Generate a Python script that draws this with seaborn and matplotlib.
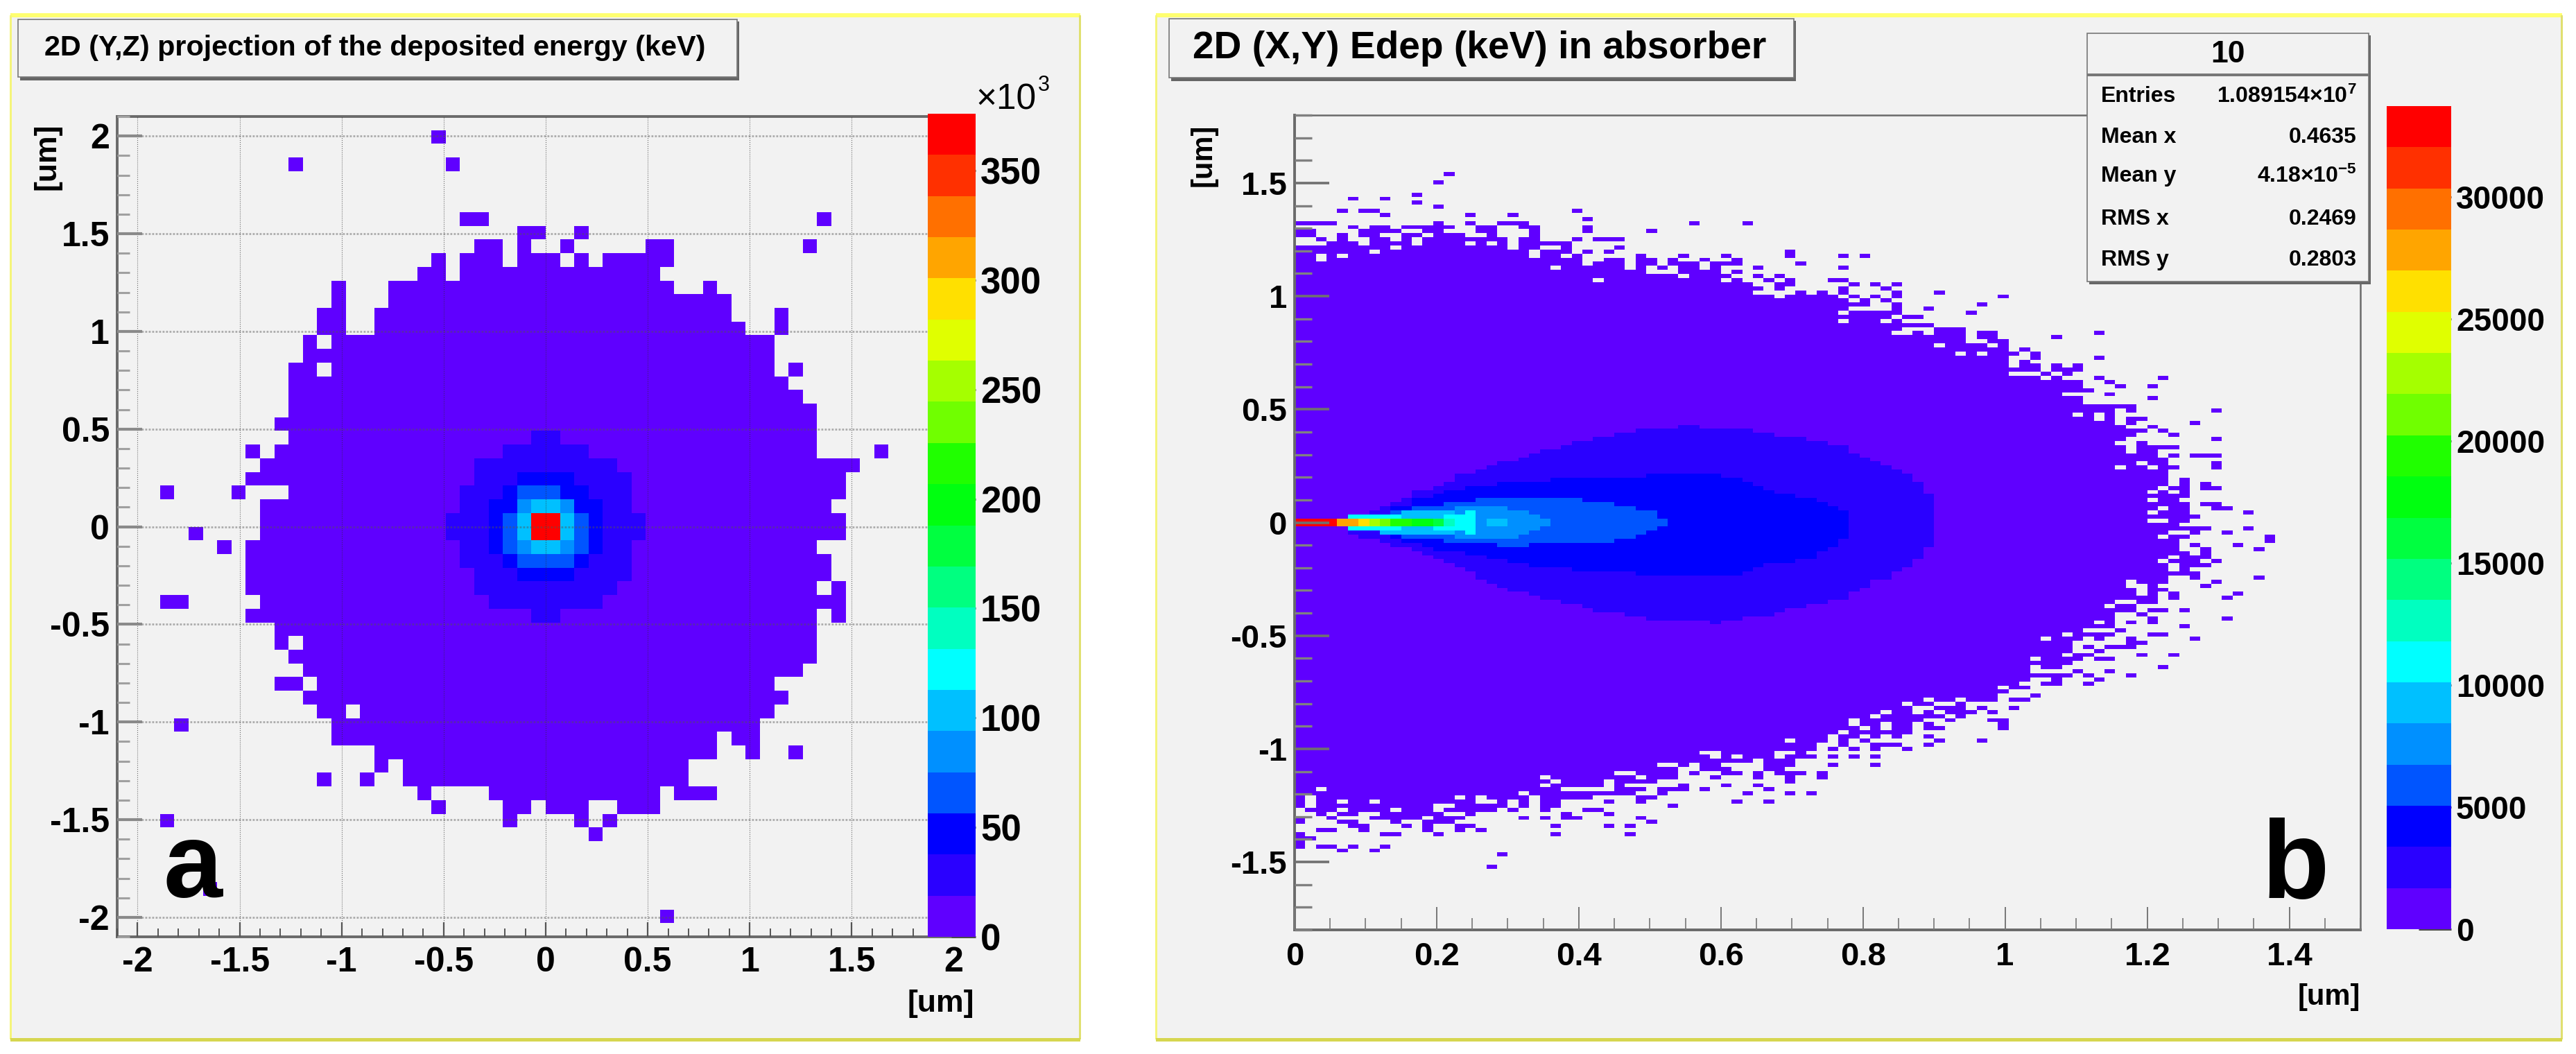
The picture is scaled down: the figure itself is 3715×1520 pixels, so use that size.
import matplotlib
matplotlib.use("Agg")
import matplotlib.pyplot as plt
from matplotlib.colors import ListedColormap
from matplotlib.patches import Rectangle
from matplotlib.ticker import MultipleLocator
import numpy as np
import pandas as pd
import seaborn as sns

WIDTH = 3715
HEIGHT = 1520

# palette, lowest contour first
BANDS = ["#5f00ff", "#2a00ff", "#0000ff", "#0055ff", "#0090ff", "#00c0ff", "#00ffff",
         "#00ffc0", "#00ff80", "#00ff40", "#00ff10", "#20ff00", "#70ff00", "#a5ff00",
         "#e0ff00", "#ffe000", "#ffa500", "#ff7000", "#ff3000", "#ff0000"]

# panel a: 60 x 60 bins, row 0 on top, filled columns per row
BINS_A = {
    1: "22", 3: "12 23", 7: "24-25 49", 8: "28-29 32", 9: "25-26 28 31 37-38 48",
    10: "22 24-26 28-30 32 34-38", 11: "21-22 24-37", 12: "15 19-38 41", 13: "15 19-42",
    14: "14-15 18-42 46", 15: "14-15 18-43 46", 16: "13 15-45", 17: "13-45",
    18: "12-13 15-45 47", 19: "12-46", 20: "12-47", 21: "12-48", 22: "11-48", 23: "12-48",
    24: "9 11-48 53", 25: "10-51", 26: "9-50", 27: "3 8 12-50", 28: "10-49", 29: "10-50",
    30: "5 10-50", 31: "7 9-48", 32: "9-49", 33: "9-49", 34: "9-48 50", 35: "3-4 10-50",
    36: "9-48 50", 37: "11-48", 38: "11 13-48", 39: "12-48", 40: "13-47", 41: "11-12 14-45",
    42: "13-46", 43: "14-15 17-45", 44: "4 15-44", 45: "15-41 43-44", 46: "18-41 44 47",
    47: "18 20-39", 48: "14 17 20-39", 49: "21 26-37 39-41", 50: "22 27-28 30-32 35-37",
    51: "3 27 32 34", 52: "33", 56: "6", 58: "38",
}
CORE_A_1 = {23: "29-30", 24: "27-32", 25: "25-34", 26: "25-35", 27: "24-35", 28: "24-35",
            29: "23-36", 30: "23-36", 31: "24-35", 32: "24-35", 33: "25-35", 34: "25-34",
            35: "26-33", 36: "29-30"}
CORE_A_2 = {26: "28-31", 27: "27-32", 28: "26-33", 29: "26-33", 30: "26-33", 31: "26-33",
            32: "27-32", 33: "28-31"}
CORE_A_3 = {27: "28-30", 29: "27 32", 30: "27 32", 31: "27 32", 32: "28-31"}
CORE_A_4 = {28: "28 31", 31: "28 31"}
CORE_A_5 = {28: "29-30", 29: "28 31", 30: "28 31", 31: "29-30"}
CORE_A_19 = {29: "29-30", 30: "29-30"}

# panel b: 200 rows x 100 columns
BINS_B = {
    14: "14", 16: "13", 19: "11", 20: "5 8", 21: "11", 22: "13", 23: "4 6-7 26", 24: "8 16 20",
    25: "27", 26: "0-3 13 16 19-21 37 42", 27: "5 7-8 10-14 17-18 21-22 27",
    28: "0-1 6-9 12-13 17-18 22 27 33", 29: "0-1 4 6-7 10-11 13-15 18 22",
    30: "2 4 7-8 10 12-19 21-22 26 28-30", 31: "3-5 7-10 12-15 17 19 21-25",
    32: "0-8 10-19 21-22 25 30", 33: "0-6 8-21 23-25 27 29 46",
    34: "0-1 3 5-21 23-24 26 32 36 40 46 51 53", 35: "0-1 3-26 29-30 32-33 35 38 41",
    36: "0-26 28-30 32-33 35-37 39-41 47", 37: "0-23 25-30 32 34 36-37 39 43 51",
    38: "0-32 36-39 41", 39: "0-35 37-40 43 45", 40: "0-27 29-39 41 44 46 50-51",
    41: "0-42 45-46 52 54 56", 42: "0-43 45 51 55", 43: "0-42 47 49 51 56 60",
    44: "0-44 46-50 52 54 56 66", 45: "0-51 53 55", 46: "0-53 56 64", 47: "0-51 56 59",
    48: "0-50 52-56 63", 49: "0-55 57-58", 50: "0-50 52-54 56", 51: "0-59", 52: "0-56 60-62",
    53: "0-55 58 60-62 64-65 75", 54: "0-62 64-65 71", 55: "0-62 65-66", 56: "0-59 61-64 66",
    57: "0-66 68", 58: "0-61 63 65-67 69", 59: "0-66 69 75", 60: "0-66 68",
    61: "0-66 68-69 71 73", 62: "0-69 71-73", 63: "0-66 70 72", 64: "0-69 71 75 81",
    65: "0-73 76", 66: "0-73 77 80", 67: "0-74", 68: "0-71 76", 69: "0-73 80", 70: "0-73",
    71: "0-78", 72: "0-76 78 86", 73: "0-72 74 76", 74: "0-74 76 78-79", 75: "0-76 78 84",
    76: "0-77 80", 77: "0-79 81", 78: "0-78 82", 79: "0-77 86", 80: "0-76 79",
    81: "0-77 79-82", 82: "0-77 79-80", 83: "0-80 82 84-86", 84: "0-81", 85: "0-78 80-81 86",
    86: "0-76 78-79 81-82 86", 87: "0-81", 88: "0-81", 89: "0-81 83", 90: "0-81 83 85",
    91: "0-80 82-83 85-86", 92: "0-79 81 83", 93: "0-83", 94: "0-79 81-82", 95: "0-83 85-86",
    96: "0-80 82-83 86-87", 97: "0-79 81-83 89", 98: "0-84", 99: "0-79 82-83", 100: "0-82",
    101: "0-85 89", 102: "0-81 84 87", 103: "0-80 82-83 91", 104: "0-82 91", 105: "0-82 84 88",
    106: "0-82 85 90", 107: "0-83 85", 108: "0-81 83-85", 109: "0-80 82-84 86",
    110: "0-81 83-85", 111: "0-81 83", 112: "0-84", 113: "0-81 84 90", 114: "0-77 79-81 86",
    115: "0-77 80 85", 116: "0-78 80-81", 117: "0-78 80 82 88", 118: "0-80 82 87",
    119: "0-76 79-80", 120: "0-75 77-78", 121: "0-78 80-81 83", 122: "0-76 79",
    123: "0-76 80 87", 124: "0-74 76 78 80", 125: "0-76 83", 126: "0-73 77",
    127: "0-71 73-76 80-81", 128: "0-69 71-73 75 78 84", 129: "0-72 78-79", 130: "0-72 74 76-78",
    131: "0-72 75", 132: "0-71 73-74 79 82", 133: "0-68 70-73 75-76", 134: "0-72",
    135: "0-68 70-71 81", 136: "0-68 73 76", 137: "0-72 74 78", 138: "0-68 71 75",
    139: "0-67 70-71 74", 140: "0-65 67-68", 141: "0-66", 142: "0-65 69",
    143: "0-58 60-61 63-65 67-68", 144: "0-56 58-59 62", 145: "0-57 60-62 64 67",
    146: "0-54 56-57 59 61-63 65", 147: "0-53 55-60 62", 148: "0-51 53-58 61 65-66",
    149: "0-51 53-54 56-57 59 66", 150: "0-52 54 56-57 59-60 66", 151: "0-50 52-57",
    152: "0-49 51-52 54 56 59", 153: "0-45 47-49 51 53 60 64", 154: "0-48 51 54-56 59",
    155: "0-48 50 52 54 57", 156: "0-37 40-44 47", 157: "0-38 40 42-44 46-48 50 52 54",
    158: "0-42 44-46", 159: "0-33 36 38-39 44-46 50 54", 160: "0-35 38-40 44-45",
    161: "0-29 32-35 37 40-41 43 45-47 49", 162: "0-22 24-31 33-35 39 43 46 49",
    163: "0-23 25-28 30-33 46", 164: "0-22 24-28 30 36 40 43",
    165: "0-1 3-24 30-32 34-36 38 44", 166: "0-20 22-31 34 42 46 48",
    167: "0 2-14 16 18-21 23-27 32-33", 168: "0 2-3 5-6 8-16 19 21 23-24 29 32 41 44",
    169: "0 2-12 15-19 21 23-24 35", 170: "1-3 5-8 10-12 14-18 20 23 27-28",
    171: "2 4-5 8-13 16 25 29", 172: "0 3 7-11 13-15 21 23 25-26 32", 173: "0 4-5 9 12-14 33",
    174: "5-6 10 12 15-16 24 29 31", 175: "2-3 6 12 15 17", 176: "0 8-9 13 24 31",
    177: "0-1", 178: "0", 179: "0 2-3 5 8", 180: "4 7", 181: "19", 184: "18",
}

# inner contours of panel b, first and last row for each column
INDIGO_FIRST_COL = 5
INDIGO_TOP = [98, 98, 97, 96, 95, 94, 92, 92, 91, 90, 88, 88, 87, 86, 85, 85, 84, 83, 82, 82,
              81, 80, 80, 79, 79, 78, 78, 77, 77, 77, 77, 76, 76, 77, 77, 77, 77, 77, 78, 78,
              79, 79, 79, 80, 80, 81, 81, 83, 84, 85, 86, 87, 88, 90, 93]
INDIGO_BOTTOM = [102, 103, 103, 104, 105, 105, 106, 107, 108, 109, 110, 111, 113, 114, 115,
                 116, 116, 117, 118, 118, 119, 119, 120, 121, 121, 121, 122, 122, 123, 123,
                 123, 123, 123, 123, 124, 123, 123, 122, 122, 122, 121, 120, 120, 119, 119,
                 118, 118, 116, 115, 113, 113, 111, 110, 108, 105]
BLUE_FIRST_COL = 9
BLUE_TOP = [96, 96, 94, 94, 93, 92, 92, 91, 91, 91, 90, 90, 90, 90, 90, 89, 89, 89, 89, 89,
            89, 89, 89, 89, 88, 88, 88, 88, 88, 88, 88, 89, 89, 90, 91, 92, 93, 93, 94, 94,
            95, 96, 97]
BLUE_BOTTOM = [103, 104, 104, 105, 106, 106, 106, 107, 107, 108, 108, 109, 109, 110, 110, 110,
               110, 111, 111, 111, 111, 111, 111, 112, 112, 112, 112, 112, 112, 112, 112, 112,
               112, 111, 110, 109, 109, 109, 108, 108, 106, 105, 103]
AZURE_FIRST_COL = 9
AZURE_TOP = [97, 97, 96, 96, 96, 95, 95, 95, 94, 94, 94, 94, 94, 94, 94, 94, 94, 94, 95, 95,
             95, 96, 96, 97, 97, 99]
AZURE_BOTTOM = [102, 103, 103, 103, 103, 104, 104, 104, 104, 104, 105, 105, 105, 104, 104, 104,
                104, 104, 104, 104, 104, 103, 103, 102, 101, 100]
SKY_FIRST_COL = 15
SKY_TOP = [96, 96, 96, 96, 96, 97, 97, 98, 99]
SKY_BOTTOM = [103, 103, 103, 103, 103, 103, 102, 101, 100]
LIGHT_FIRST_COL = 6
LIGHT_TOP = [98, 98, 98, 98, 97, 97, 97, 97, 97]
LIGHT_BOTTOM = [101, 101, 102, 102, 102, 102, 102, 102, 102]
CYAN_FIRST_COL = 5
CYAN_TOP = [98, 98, 98, 98, 98, 99, 99, 99, 99, 98, 98, 97]
CYAN_BOTTOM = [101, 101, 101, 101, 101, 100, 100, 100, 101, 101, 101, 102]
# the two rows either side of y = 0, from x = 0 on
AXIS_BANDS = [19, 19, 19, 19, 16, 16, 15, 13, 12, 11, 11, 10, 10, 9, 7, 6, 6, 4, 5, 5, 4, 4]

A_MAX = 376.0
B_MAX = 33720.0
A_CBAR_TICKS = [0, 50, 100, 150, 200, 250, 300, 350]
B_CBAR_TICKS = [0, 5000, 10000, 15000, 20000, 25000, 30000]
A_TICKS = [-2, -1.5, -1, -0.5, 0, 0.5, 1, 1.5, 2]
A_LABELS = ["-2", "-1.5", "-1", "-0.5", "0", "0.5", "1", "1.5", "2"]
B_X_TICKS = [0, 0.2, 0.4, 0.6, 0.8, 1, 1.2, 1.4]
B_X_LABELS = ["0", "0.2", "0.4", "0.6", "0.8", "1", "1.2", "1.4"]
B_Y_TICKS = [-1.5, -1, -0.5, 0, 0.5, 1, 1.5]
B_Y_LABELS = ["-1.5", "-1", "-0.5", "0", "0.5", "1", "1.5"]
STATS_NAMES = ["Entries", "Mean x", "Mean y", "RMS x", "RMS y"]
STATS_VALUES = ["1.089154×10$^{7}$", "0.4635", "4.18×10$^{-5}$", "0.2469", "0.2803"]

GREY = "#f2f2f2"
FONT = ["Liberation Sans", "DejaVu Sans"]


def parse_runs(text):
    cols = []
    for part in text.split():
        first, _, last = part.partition("-")
        cols.extend(range(int(first), int(last or first) + 1))
    return cols


def paint_runs(grid, rows, band):
    for row, text in rows.items():
        grid[row, parse_runs(text)] = band


def paint_columns(grid, first_col, tops, bottoms, band):
    for i, (top, bottom) in enumerate(zip(tops, bottoms)):
        grid[top:bottom + 1, first_col + i] = band


def frac_box(left, top, right, bottom):
    return [left / WIDTH, 1 - bottom / HEIGHT, (right - left) / WIDTH, (bottom - top) / HEIGHT]


def fig_rect(fig, left, top, right, bottom, **kwargs):
    x, y, w, h = frac_box(left, top, right, bottom)
    patch = Rectangle((x, y), w, h, transform=fig.transFigure, **kwargs)
    fig.add_artist(patch)
    return patch


def fig_text(fig, x, y, text, **kwargs):
    kwargs.setdefault("family", FONT)
    kwargs.setdefault("weight", "bold")
    kwargs.setdefault("color", "black")
    fig.text(x / WIDTH, 1 - y / HEIGHT, text, **kwargs)


def draw_frame(fig, left, top, right, bottom):
    fig_rect(fig, left, top, right, bottom, facecolor=GREY, edgecolor="none", zorder=-2)
    fig_rect(fig, left, top - 3, right, top + 3, facecolor="#ffff70", edgecolor="none", zorder=-1)
    fig_rect(fig, left - 1, top, left + 2, bottom, facecolor="#f4f47a", edgecolor="none", zorder=-1)
    fig_rect(fig, right - 2, top, right + 1, bottom, facecolor="#e0e070", edgecolor="none", zorder=-1)
    fig_rect(fig, left, bottom - 2, right, bottom + 3, facecolor="#d6d650", edgecolor="none", zorder=-1)


def draw_title(fig, left, top, right, bottom, text, size, pad):
    fig_rect(fig, left + 3, top + 3, right + 3, bottom + 5, facecolor="#666666", edgecolor="none", zorder=1)
    fig_rect(fig, left, top, right, bottom, facecolor=GREY, edgecolor="#777777", linewidth=1.2, zorder=2)
    fig_text(fig, left + pad, (top + bottom) / 2, text, fontsize=size, va="center", ha="left", zorder=3)


def draw_hist(ax, cax, grid, x_edges, y_edges, scale, vmax, cbar_ticks):
    rows, cols = np.nonzero(grid >= 0)
    x_mid = (x_edges[:-1] + x_edges[1:]) / 2
    y_mid = (y_edges[:-1] + y_edges[1:]) / 2
    df = pd.DataFrame({
        "x": x_mid[cols],
        "y": y_mid[::-1][rows],
        "energy": (grid[rows, cols] + 0.5) * scale,
    })
    sns.histplot(
        data=df, x="x", y="y", weights="energy", bins=[x_edges, y_edges],
        cmap=ListedColormap(BANDS), vmin=0, vmax=vmax, ax=ax,
        cbar=True, cbar_ax=cax, cbar_kws={"ticks": cbar_ticks},
    )
    ax.set_xlim(x_edges[0], x_edges[-1])
    ax.set_ylim(y_edges[0], y_edges[-1])
    ax.set_xlabel("")
    ax.set_ylabel("")
    ax.set_facecolor(GREY)


def style_cbar(cax, labels, size, length):
    for spine in cax.spines.values():
        spine.set_visible(False)
    cax.tick_params(axis="y", which="both", direction="in", right=True, left=False,
                    length=length, width=2.2, color="#4a4a4a", pad=5, labelsize=size,
                    labelcolor="black")
    cax.set_yticklabels(labels, family=FONT, weight="bold")


sns.set_theme(style="ticks")
plt.rcParams["font.family"] = FONT
plt.rcParams["axes.unicode_minus"] = False
plt.rcParams["mathtext.fontset"] = "custom"
plt.rcParams["mathtext.rm"] = "Liberation Sans:bold"
plt.rcParams["mathtext.default"] = "rm"

fig = plt.figure(figsize=(WIDTH / 100, HEIGHT / 100), dpi=100, facecolor="white")
draw_frame(fig, 15, 22, 1558, 1499)
draw_frame(fig, 1667, 22, 3695, 1499)

# panel a
grid_a = np.full((60, 60), -1.0)
paint_runs(grid_a, BINS_A, 0)
paint_runs(grid_a, CORE_A_1, 1)
paint_runs(grid_a, CORE_A_2, 2)
paint_runs(grid_a, CORE_A_3, 3)
paint_runs(grid_a, CORE_A_4, 4)
paint_runs(grid_a, CORE_A_5, 5)
paint_runs(grid_a, CORE_A_19, 19)

ax_a = fig.add_axes(frac_box(169, 168, 1405, 1351))
cax_a = fig.add_axes(frac_box(1338, 164, 1407, 1351))
draw_hist(ax_a, cax_a, grid_a, np.linspace(-2.1, 2.1, 61), np.linspace(-2.1, 2.1, 61),
          A_MAX / 20, A_MAX, A_CBAR_TICKS)
ax_a.set_xticks(A_TICKS, A_LABELS, family=FONT, weight="bold")
ax_a.set_yticks(A_TICKS, A_LABELS, family=FONT, weight="bold")
ax_a.xaxis.set_minor_locator(MultipleLocator(0.1))
ax_a.yaxis.set_minor_locator(MultipleLocator(0.1))
ax_a.tick_params(axis="x", which="major", direction="in", length=15, width=1.6, color="#555555",
                 labelsize=36, pad=10, labelcolor="black")
ax_a.tick_params(axis="x", which="minor", direction="in", length=9, width=1.4, color="#555555")
ax_a.tick_params(axis="y", which="major", direction="in", length=26, width=3, color="#8a8a8a",
                 labelsize=36, pad=8, labelcolor="black")
ax_a.tick_params(axis="y", which="minor", direction="in", length=13, width=2.2, color="#a0a0a0")
ax_a.set_axisbelow(False)
ax_a.grid(True, axis="x", which="major", color="#303030", linewidth=0.8, linestyle=":", alpha=0.7)
ax_a.grid(True, axis="y", which="major", color="#555555", linewidth=2.0, linestyle=(0, (1, 0.8)), alpha=0.45)
for name, spine in ax_a.spines.items():
    spine.set_color("#6a6a6a")
    spine.set_linewidth(2.8)
style_cbar(cax_a, [str(v) for v in A_CBAR_TICKS], 38, 25)

draw_title(fig, 26, 28, 1063, 111, "2D (Y,Z) projection of the deposited energy (keV)", 29.8, 38)
fig_text(fig, 1407, 158, "×10", fontsize=37, weight="normal", va="baseline", ha="left", zorder=3)
fig_text(fig, 1497, 131, "3", fontsize=22, weight="normal", va="baseline", ha="left", zorder=3)
fig_text(fig, 68, 226, "[um]", fontsize=32, rotation=90, va="center", ha="center", zorder=3)
fig_text(fig, 1405, 1448, "[um]", fontsize=32, va="center", ha="right", zorder=3)
fig_text(fig, 236, 1294, "a", fontsize=110, va="baseline", ha="left", zorder=3)

# panel b
grid_b = np.full((200, 100), -1.0)
paint_runs(grid_b, BINS_B, 0)
paint_columns(grid_b, INDIGO_FIRST_COL, INDIGO_TOP, INDIGO_BOTTOM, 1)
paint_columns(grid_b, BLUE_FIRST_COL, BLUE_TOP, BLUE_BOTTOM, 2)
paint_columns(grid_b, AZURE_FIRST_COL, AZURE_TOP, AZURE_BOTTOM, 3)
paint_columns(grid_b, SKY_FIRST_COL, SKY_TOP, SKY_BOTTOM, 4)
paint_columns(grid_b, LIGHT_FIRST_COL, LIGHT_TOP, LIGHT_BOTTOM, 5)
paint_columns(grid_b, CYAN_FIRST_COL, CYAN_TOP, CYAN_BOTTOM, 6)
for col, band in enumerate(AXIS_BANDS):
    grid_b[99:101, col] = band

ax_b = fig.add_axes(frac_box(1867, 166, 3404, 1341))
cax_b = fig.add_axes(frac_box(3442, 153, 3535, 1340))
draw_hist(ax_b, cax_b, grid_b, np.linspace(0, 1.5, 101), np.linspace(-1.8, 1.8, 201),
          B_MAX / 20, B_MAX, B_CBAR_TICKS)
ax_b.set_xticks(B_X_TICKS, B_X_LABELS, family=FONT, weight="bold")
ax_b.set_yticks(B_Y_TICKS, B_Y_LABELS, family=FONT, weight="bold")
ax_b.xaxis.set_minor_locator(MultipleLocator(0.05))
ax_b.yaxis.set_minor_locator(MultipleLocator(0.1))
ax_b.tick_params(axis="x", which="major", direction="in", length=24, width=1.4, color="#777777",
                 labelsize=34, pad=12, labelcolor="black")
ax_b.tick_params(axis="x", which="minor", direction="in", length=12, width=1.2, color="#777777")
ax_b.tick_params(axis="y", which="major", direction="in", length=36, width=2.6, color="#707070",
                 labelsize=34, pad=8, labelcolor="black")
ax_b.tick_params(axis="y", which="minor", direction="in", length=18, width=2.4, color="#808080")
ax_b.set_axisbelow(False)
for name, spine in ax_b.spines.items():
    spine.set_color("#6a6a6a")
    spine.set_linewidth(2.8 if name in ("left", "bottom") else 1.8)
style_cbar(cax_b, [str(v) for v in B_CBAR_TICKS], 33, 34)

draw_title(fig, 1686, 27, 2587, 112, "2D (X,Y) Edep (keV) in absorber", 39.7, 34)
fig_text(fig, 1736, 224, "[um]", fontsize=30, rotation=90, va="center", ha="center", zorder=3)
fig_text(fig, 3404, 1438, "[um]", fontsize=30, va="center", ha="right", zorder=3)
fig_text(fig, 3262, 1294, "b", fontsize=115, va="baseline", ha="left", zorder=3)

# stats box
fig_rect(fig, 3013, 51, 3419, 410, facecolor="#666666", edgecolor="none", zorder=4)
fig_rect(fig, 3010, 48, 3416, 406, facecolor=GREY, edgecolor="#777777", linewidth=1.2, zorder=5)
fig_rect(fig, 3010, 106, 3416, 110, facecolor="#777777", edgecolor="none", zorder=5)
fig_text(fig, 3213, 79, "10", fontsize=32, va="center", ha="center", zorder=6)
for name, value, y in zip(STATS_NAMES, STATS_VALUES, [139, 198, 254, 316, 375]):
    fig_text(fig, 3030, y, name, fontsize=23, va="center", ha="left", zorder=6)
    fig_text(fig, 3399, y, value, fontsize=23, va="center", ha="right", zorder=6)

fig.savefig("out.png", dpi=100, facecolor="white")
